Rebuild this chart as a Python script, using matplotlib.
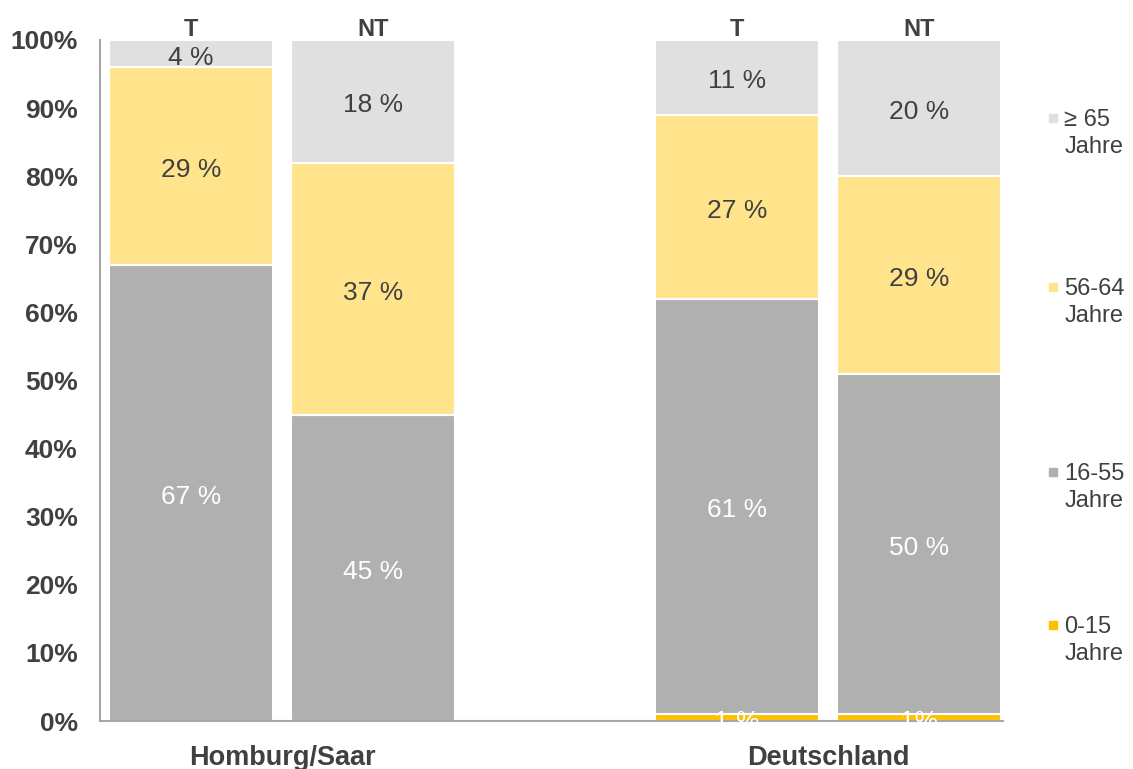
import matplotlib.pyplot as plt
import numpy as np

plt.rcParams['font.family'] = ['Liberation Sans', 'DejaVu Sans']

# Daten
gruppen = ['Homburg/Saar', 'Deutschland']
balken = ['T', 'NT', 'T', 'NT']
positionen = [0, 1, 3, 4]
kategorien = ['0-15\nJahre', '16-55\nJahre', '56-64\nJahre', '≥ 65\nJahre']
werte_0_15 = [0, 0, 1, 1]
werte_16_55 = [67, 45, 61, 50]
werte_56_64 = [29, 37, 27, 29]
werte_65 = [4, 18, 11, 20]
beschriftung_0_15 = ['', '', '1 %', '1%']

farben = ['#FFC000', '#B0B0B0', '#FFE48C', '#E0E0E0']
textfarben = ['white', 'white', '#404040', '#404040']
dunkel = '#404040'

fig = plt.figure(figsize=(11.33, 7.69), dpi=100)
ax = fig.add_axes([0.0883, 0.0624, 0.797, 0.8856])

serien = [werte_0_15, werte_16_55, werte_56_64, werte_65]
unten = np.zeros(len(positionen))
for i, werte in enumerate(serien):
    werte = np.array(werte, dtype=float)
    ax.bar(positionen, werte, bottom=unten, width=0.9, color=farben[i],
           edgecolor='white', linewidth=1.5)
    for x, w, b, k in zip(positionen, werte, unten, range(len(positionen))):
        if w <= 0:
            continue
        txt = beschriftung_0_15[k] if i == 0 else f'{int(w)} %'
        ax.annotate(txt, (x, b + w / 2), xytext=(0, -4),
                    textcoords='offset pixels', ha='center', va='center',
                    fontsize=19, color=textfarben[i])
    unten += werte

ax.set_xlim(-0.5, 4.46)
ax.set_ylim(0, 100)
ax.set_yticks(np.arange(0, 101, 10))
ax.set_yticklabels([f'{v}%' for v in range(0, 101, 10)], fontsize=19,
                   fontweight='bold', color=dunkel)
ax.tick_params(axis='y', length=0, pad=16)
ax.set_xticks([])
for s in ['top', 'right']:
    ax.spines[s].set_visible(False)
for s in ['left', 'bottom']:
    ax.spines[s].set_color('#A6A6A6')
    ax.spines[s].set_linewidth(1.5)

# T / NT oben
for x, b in zip(positionen, balken):
    ax.text(x, 101.5, b, ha='center', va='center', fontsize=17,
            fontweight='bold', color=dunkel, clip_on=False)

# Gruppennamen unten
for x, g in zip([0.5, 3.5], gruppen):
    ax.text(x, -5.4, g, ha='center', va='center', fontsize=19.5,
            fontweight='bold', color=dunkel, clip_on=False)

# Legende
leg_y = [0.847, 0.627, 0.387, 0.188]
for k, y in zip([3, 2, 1, 0], leg_y):
    fig.patches.append(plt.Rectangle((0.9255, y - 0.006), 0.0075, 0.011,
                                     transform=fig.transFigure,
                                     color=farben[k]))
    fig.text(0.9395, y + 0.011, kategorien[k], ha='left', va='top',
             fontsize=17, color=dunkel, linespacing=1.28)

fig.savefig('out.png', dpi=100)
